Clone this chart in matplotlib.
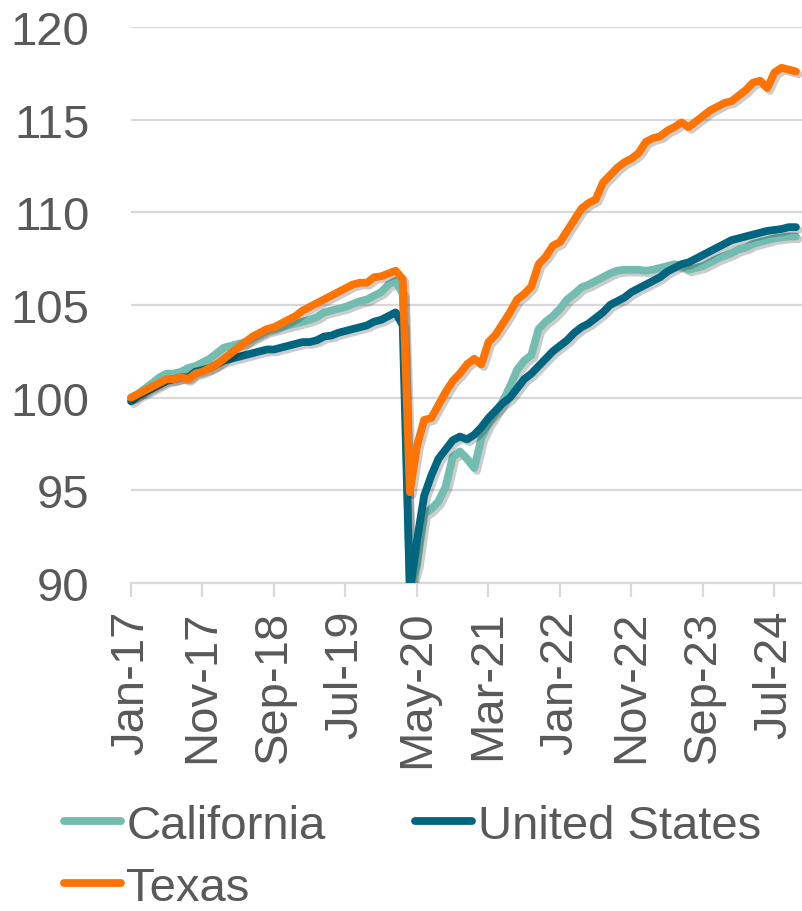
import matplotlib
matplotlib.use("Agg")
import matplotlib.pyplot as plt
import matplotlib.patheffects as pe
from matplotlib.patches import Rectangle
import numpy as np

plt.rcParams['font.family'] = ['Liberation Sans', 'DejaVu Sans']

# Monthly index, Jan-17 .. Oct-24 (Jan-17 = 100)
start_year, start_month = 2017, 1
n_months = 94

california = [
    100.0, 100.2, 100.5, 100.8, 101.1, 101.3, 101.3, 101.4, 101.6, 101.7,
    101.9, 102.1, 102.4, 102.7, 102.8, 102.9, 103.0, 103.2, 103.4, 103.6,
    103.7, 103.8, 103.9, 104.0, 104.1, 104.2, 104.35, 104.6, 104.7, 104.8,
    104.9, 105.05, 105.2, 105.3, 105.5, 105.7, 106.1, 106.3, 105.6, 89.6,
    91.0, 93.7, 94.0, 94.4, 95.2, 96.8, 97.1, 96.7, 96.2, 97.8,
    98.6, 99.2, 99.8, 100.6, 101.5, 102.0, 102.3, 103.7, 104.1, 104.4,
    104.8, 105.3, 105.6, 105.95, 106.1, 106.3, 106.5, 106.7, 106.85, 106.9,
    106.9, 106.9, 106.85, 106.9, 107.0, 107.1, 107.2, 107.1, 106.9, 107.0,
    107.1, 107.3, 107.5, 107.65, 107.8, 108.0, 108.1, 108.3, 108.4, 108.5,
    108.6, 108.65, 108.7, 108.7,
]

united_states = [
    99.8, 100.1, 100.3, 100.5, 100.7, 100.9, 101.0, 101.1, 101.1, 101.4,
    101.5, 101.6, 101.8, 102.0, 102.1, 102.2, 102.3, 102.4, 102.5, 102.6,
    102.6, 102.7, 102.8, 102.9, 103.0, 103.0, 103.1, 103.3, 103.35, 103.5,
    103.6, 103.7, 103.8, 103.9, 104.1, 104.2, 104.4, 104.6, 103.9, 89.5,
    92.3, 94.7, 95.8, 96.7, 97.2, 97.7, 97.9, 97.75, 98.0, 98.4,
    98.9, 99.3, 99.7, 100.0, 100.5, 101.0, 101.3, 101.7, 102.1, 102.5,
    102.8, 103.1, 103.5, 103.8, 104.0, 104.3, 104.6, 105.0, 105.2, 105.4,
    105.7, 105.9, 106.1, 106.3, 106.5, 106.8, 107.0, 107.2, 107.3, 107.5,
    107.7, 107.9, 108.1, 108.3, 108.5, 108.6, 108.7, 108.8, 108.9, 109.0,
    109.05, 109.1, 109.2, 109.2,
]

texas = [
    100.0, 100.2, 100.4, 100.6, 100.8, 101.0, 101.0, 101.1, 101.0, 101.3,
    101.4, 101.6, 101.8, 102.1, 102.4, 102.7, 103.0, 103.3, 103.5, 103.7,
    103.8, 104.0, 104.2, 104.4, 104.7, 104.9, 105.1, 105.3, 105.5, 105.7,
    105.9, 106.1, 106.2, 106.2, 106.5, 106.55, 106.7, 106.85, 106.4, 94.9,
    97.4, 98.8, 98.9, 99.6, 100.3, 100.9, 101.3, 101.8, 102.1, 101.8,
    103.0, 103.4, 104.0, 104.6, 105.3, 105.6, 106.0, 107.2, 107.6, 108.2,
    108.4, 109.0, 109.6, 110.2, 110.5, 110.7, 111.6, 112.0, 112.4, 112.7,
    112.9, 113.2, 113.8, 114.0, 114.1, 114.4, 114.6, 114.85, 114.6, 114.9,
    115.2, 115.5, 115.7, 115.9, 116.0, 116.3, 116.6, 117.0, 117.1, 116.7,
    117.55, 117.8, 117.7, 117.6,
]

series_names = ["California", "United States", "Texas"]
series_colors = ["#72BCB0", "#006680", "#FF7300"]

month_abbr = ["Jan", "Feb", "Mar", "Apr", "May", "Jun",
              "Jul", "Aug", "Sep", "Oct", "Nov", "Dec"]
labels = []
for i in range(n_months):
    mm = (start_month - 1 + i) % 12
    yy = start_year + (start_month - 1 + i) // 12
    labels.append(f"{month_abbr[mm]}-{yy % 100:02d}")

tick_step = 10
y_ticks = [90, 95, 100, 105, 110, 115, 120]

W, H = 802, 912
fig = plt.figure(figsize=(W / 100, H / 100), dpi=100)
ax = fig.add_axes([131 / W, (H - 584) / H, (802 - 131) / W, (584 - 28) / H])

x = np.arange(n_months)
txt_color = "#595959"
grid_color = "#D9D9D9"
lw = 5.6

clip_rect = Rectangle((-0.05, 0), 1.1, 1.2, transform=ax.transAxes)
for vals, name, col in zip([california, united_states, texas], series_names, series_colors):
    ln, = ax.plot(x, vals, color=col, lw=lw, label=name,
                  solid_capstyle='round', solid_joinstyle='round', zorder=3,
                  path_effects=[pe.SimpleLineShadow(offset=(2, -2), shadow_color='black', alpha=0.2),
                                pe.Normal()])
    ln.set_clip_path(clip_rect)

ax.set_xlim(0, 93.85)
ax.set_ylim(90, 120)
ax.set_yticks(y_ticks)
ax.set_yticklabels([str(v) for v in y_ticks])
ax.set_xticks(x[::tick_step])
ax.set_xticklabels(labels[::tick_step], rotation=90)

ax.grid(axis='y', color=grid_color, lw=1.6)
ax.set_axisbelow(True)
for s in ['top', 'right', 'left']:
    ax.spines[s].set_visible(False)
ax.spines['bottom'].set_color(grid_color)
ax.spines['bottom'].set_linewidth(1.6)
ax.tick_params(axis='y', length=0, pad=30, labelsize=34, labelcolor=txt_color)
ax.tick_params(axis='x', length=10, width=1.6, color=grid_color, pad=9,
               labelsize=34, labelcolor=txt_color)

# legend: row 1 California, United States; row 2 Texas (column-major fill)
order = [0, 2, 1]
leg_handles = [plt.Line2D([], [], color=series_colors[i], lw=lw, solid_capstyle='round') for i in order]
leg_labels = [series_names[i] for i in order]
leg = fig.legend(leg_handles, leg_labels, loc='upper left',
                 bbox_to_anchor=(64 / W, (H - 805) / H), ncol=2, frameon=False,
                 fontsize=34, handlelength=1.2, handletextpad=0.12,
                 columnspacing=1.9, labelspacing=0.38, borderpad=0, borderaxespad=0)
for t in leg.get_texts():
    t.set_color(txt_color)

fig.savefig("out.png", dpi=100)
